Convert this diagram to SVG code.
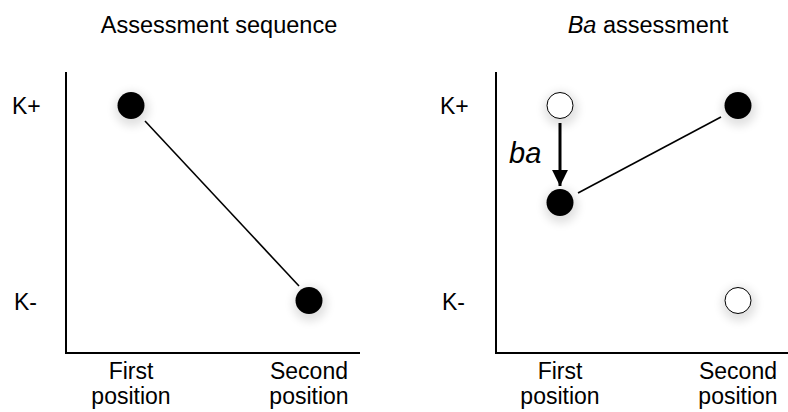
<svg xmlns="http://www.w3.org/2000/svg" width="788" height="412" viewBox="0 0 788 412">
<style>
text{font-family:"Liberation Sans",Arial,sans-serif;font-size:23px;fill:#000}
.title{font-size:23.5px}
.ba{font-size:29px;font-style:italic}
.axis{fill:none;stroke:#000;stroke-width:2}
.link{stroke:#000;stroke-width:1.6}
.full{fill:#000}
.open{fill:#fff;stroke:#000;stroke-width:1}
.halo{fill:#000;opacity:0.12;filter:url(#blur)}
</style>
<defs>
<filter id="blur" x="-1" y="-1" width="3" height="3"><feGaussianBlur stdDeviation="5"/></filter>
<marker id="ah" viewBox="0 0 10 10" refX="10" refY="5" markerWidth="5.3" markerHeight="5.3" orient="auto" markerUnits="strokeWidth"><path d="M0,0 L10,5 L0,10 Z" fill="#000"/></marker>
</defs>
<text class="title" x="219" y="33" text-anchor="middle">Assessment sequence</text>
<text class="title" x="648" y="33" text-anchor="middle"><tspan font-style="italic">Ba</tspan> assessment</text>
<g id="axes">
<path class="axis" d="M66,72 V353 H360"/>
<path class="axis" d="M496,72 V353 H788"/>
</g>
<g id="ylabels">
<text x="12" y="114">K+</text>
<text x="14" y="310">K-</text>
<text x="440" y="114">K+</text>
<text x="442" y="310">K-</text>
</g>
<g id="xlabels" text-anchor="middle">
<text x="131" y="379">First</text>
<text x="131" y="404">position</text>
<text x="309" y="379">Second</text>
<text x="309" y="404">position</text>
<text x="560" y="379">First</text>
<text x="560" y="404">position</text>
<text x="738" y="379">Second</text>
<text x="738" y="404">position</text>
</g>
<g id="connectors">
<line class="link" x1="145" y1="121" x2="299" y2="286"/>
<line class="link" x1="578" y1="193" x2="721" y2="117"/>
<line x1="560" y1="123" x2="560" y2="186" stroke="#000" stroke-width="3" marker-end="url(#ah)"/>
<text class="ba" x="509" y="163">ba</text>
</g>
<g id="n1"><circle class="halo" cx="132" cy="109" r="17"/><circle class="full" cx="131" cy="105.5" r="13.5"/></g>
<g id="n2"><circle class="halo" cx="310" cy="304" r="17"/><circle class="full" cx="309" cy="300.5" r="13.5"/></g>
<g id="n3"><circle class="halo" cx="561" cy="109" r="17"/><circle class="open" cx="560" cy="105.5" r="13"/></g>
<g id="n4"><circle class="halo" cx="561" cy="206" r="17"/><circle class="full" cx="560" cy="202.5" r="13.5"/></g>
<g id="n5"><circle class="halo" cx="739" cy="109" r="17"/><circle class="full" cx="738" cy="105.5" r="13.5"/></g>
<g id="n6"><circle class="halo" cx="739" cy="304" r="17"/><circle class="open" cx="738" cy="300.5" r="13"/></g>
</svg>
